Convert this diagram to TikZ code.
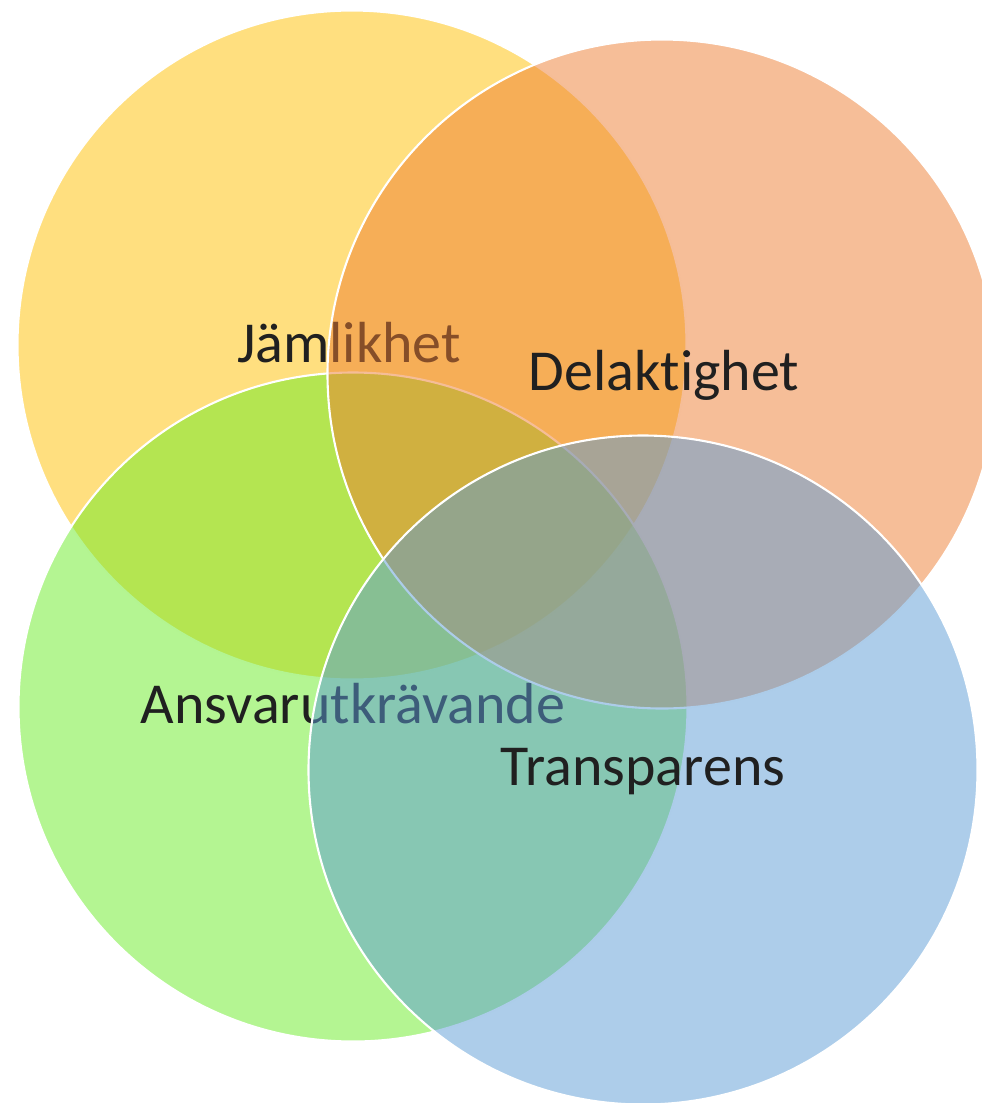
\documentclass[tikz,border=0pt]{standalone}
\usepackage{fontspec}
\setmainfont{Carlito}[Ligatures=NoCommon]

\definecolor{venngul}{HTML}{FFC000}
\definecolor{vennorange}{HTML}{ED7D31}
\definecolor{venngron}{RGB}{105,235,37}
\definecolor{vennbla}{HTML}{5B9BD5}
\definecolor{textgra}{HTML}{202020}

\begin{document}
\begin{tikzpicture}[x=0.02cm, y=-0.02cm,
  cirkel/.style={fill opacity=0.5, draw=white, line width=1.2pt},
  etikett/.style={anchor=base, inner sep=0pt, text=textgra,
    font=\fontsize{33}{40}\selectfont}]

\useasboundingbox (0,0) rectangle (982,1103);

% Mittpunkter
\coordinate (cJ) at (352,345);
\coordinate (cA) at (353,707);
\coordinate (cD) at (662,374);
\coordinate (cT) at (643,770);

% Jämlikhet (gul)
\filldraw[cirkel, fill=venngul] (cJ) circle (334.5);
\node[etikett] (jamlikhet) at (349,362) {Jämlikhet};

% Ansvarutkrävande (grön)
\filldraw[cirkel, fill=venngron] (cA) circle (334.5);
\node[etikett] (ansvar) at (353,723) {Ansvarutkrävande};

% Delaktighet (orange)
\filldraw[cirkel, fill=vennorange] (cD) circle (334.5);
\node[etikett] (delaktighet) at (664,390) {Delaktighet};

% Transparens (blå)
\filldraw[cirkel, fill=vennbla] (cT) circle (334.5);
\node[etikett] (transparens) at (643,785) {Transparens};

\end{tikzpicture}
\end{document}
